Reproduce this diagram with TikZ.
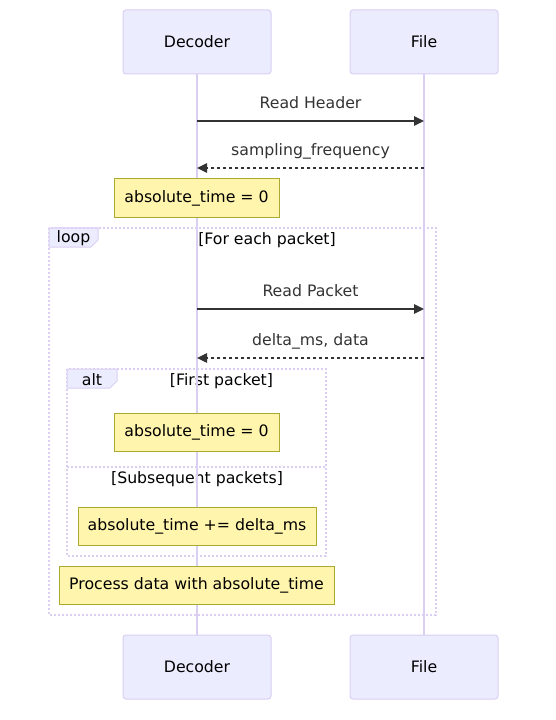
\documentclass[tikz,border=0pt]{standalone}
\usepackage{fontspec}
\setmainfont{DejaVu Sans}
\usetikzlibrary{arrows.meta}

\definecolor{actorfill}{HTML}{ECECFF}
\definecolor{actorline}{RGB}{218,206,243}
\definecolor{notefill}{HTML}{FFF5AD}
\definecolor{noteline}{HTML}{AAAA33}
\definecolor{msgline}{HTML}{333333}

\tikzset{
    actor/.style = {draw = actorline, fill = actorfill, rounded corners = 2.25pt, line width = 0.75pt,
        minimum width = 111pt, minimum height = 48pt},
    note/.style = {draw = noteline, fill = notefill, line width = 0.75pt, inner sep = 0pt, minimum height = 29pt},
    msg/.style = {draw = msgline, line width = 1.1pt, -{Triangle[length = 7.5pt, width = 7pt]}},
    reply/.style = {msg, dash pattern = on 2.25pt off 2.25pt},
    msglabel/.style = {midway, above = 8.5pt, inner sep = 0pt, text depth = 0pt, text = msgline},
    frame/.style = {draw = actorline, line width = 1.5pt, dash pattern = on 1.5pt off 1.5pt},
    framelabel/.style = {draw = actorline, fill = actorfill, line width = 0.75pt},
}

\begin{document}
\begin{tikzpicture}[x = 0.75pt, y = -0.75pt, font = \fontsize{11.8pt}{14pt}\selectfont]
            \useasboundingbox (0, 0) rectangle (556, 720);

            % Frames
            \draw [frame] (49, 228) rectangle (436, 615);
            \draw [framelabel] (49, 228) -- (98, 228) -- (98, 240) -- (91, 247) -- (49, 247) -- cycle;
            \node (loopname) at (73.5, 238.5) {loop};
            \node (loopcond) at (267, 240.5) {[For each packet]};

            \draw [frame] (67, 369) rectangle (326, 556);
            \draw [frame] (67, 467) -- (326, 467);
            \draw [framelabel] (67, 369) -- (117, 369) -- (117, 381) -- (110, 388) -- (67, 388) -- cycle;
            \node (altname) at (92, 380) {alt};
            \node (firstcond) at (221.5, 381.5) {[First packet]};
            \node (nextcond) at (197, 479.5) {[Subsequent packets]};

            % Actors and lifelines
            \node [actor] (dectop) at (197, 42) {Decoder};
            \node [actor] (filetop) at (424, 42) {File};
            \node [actor] (decbot) at (197, 667) {Decoder};
            \node [actor] (filebot) at (424, 667) {File};
            \draw [actorline, line width = 1.5pt] (dectop) -- (decbot);
            \draw [actorline, line width = 1.5pt] (filetop) -- (filebot);

            % Notes
            \node [note, minimum width = 123.75pt] (settime) at (196.5, 198) {absolute\_time = 0};
            \node [note, minimum width = 123.75pt] (firsttime) at (196.5, 432.5) {absolute\_time = 0};
            \node [note, minimum width = 178.5pt] (addtime) at (197, 526.5) {absolute\_time += delta\_ms};
            \node [note, minimum width = 206.25pt] (process) at (196.5, 585.5) {Process data with absolute\_time};

            % Messages
            \coordinate (hdrdec) at (197, 121);
            \coordinate (hdrfile) at (424, 121);
            \coordinate (freqfile) at (424, 168);
            \coordinate (freqdec) at (197, 168);
            \coordinate (pktdec) at (197, 309);
            \coordinate (pktfile) at (424, 309);
            \coordinate (datafile) at (424, 358);
            \coordinate (datadec) at (197, 358);

            \draw [msg] (hdrdec) -- (hdrfile) node [msglabel] {Read Header};
            \draw [reply] (freqfile) -- (freqdec) node [msglabel] {sampling\_frequency};
            \draw [msg] (pktdec) -- (pktfile) node [msglabel] {Read Packet};
            \draw [reply] (datafile) -- (datadec) node [msglabel] {delta\_ms, data};

\end{tikzpicture}
\end{document}
